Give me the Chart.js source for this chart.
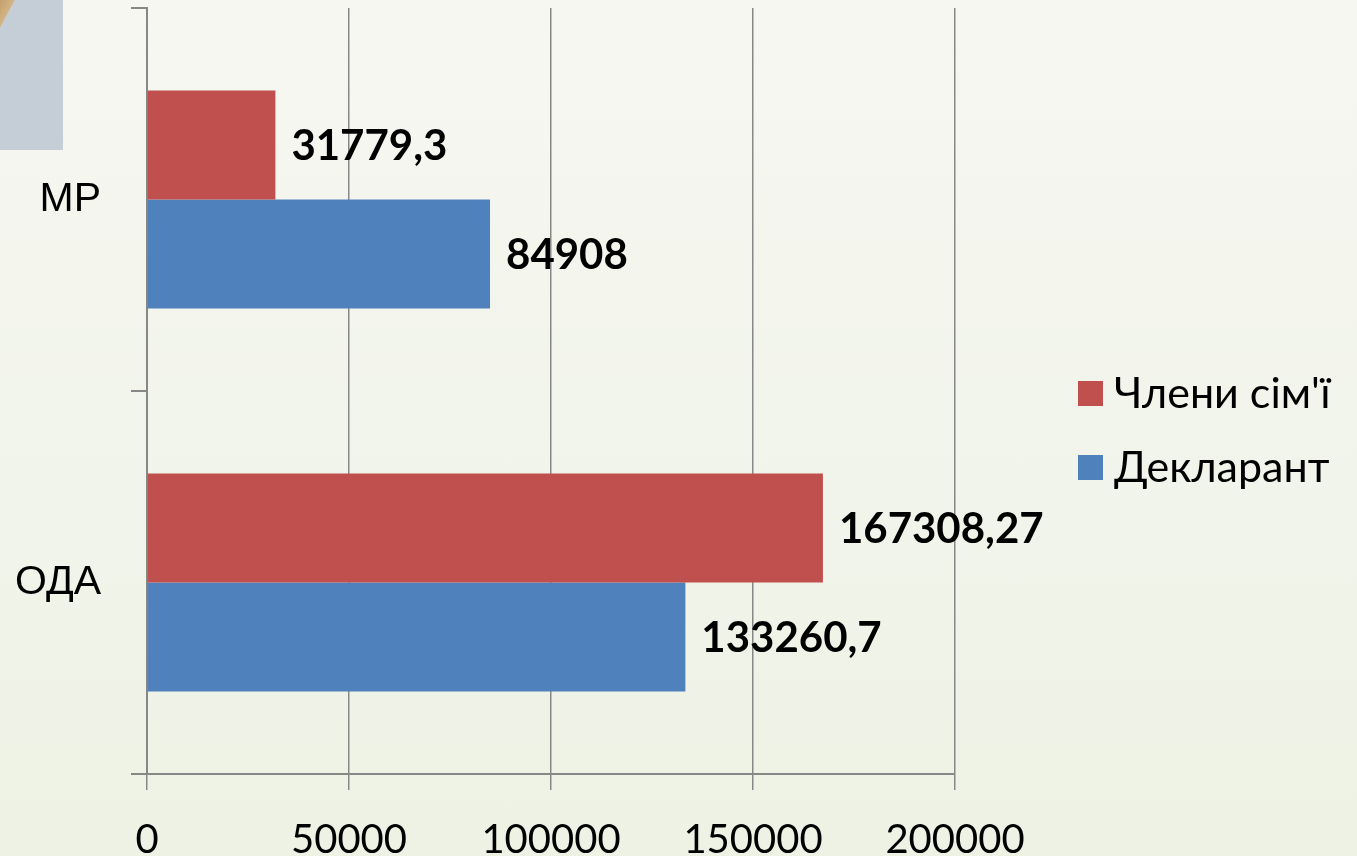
<!DOCTYPE html>
<html>
<head>
<meta charset="utf-8">
<script src="https://cdn.jsdelivr.net/npm/chart.js@4"></script>
<style>
  html, body { margin: 0; padding: 0; }
  body {
    width: 1357px; height: 856px; overflow: hidden; position: relative;
    background: linear-gradient(180deg, #f6f7f1 0%, #f1f4ea 60%, #edf2e4 100%);
  }
  #deco {
    position: absolute; left: 0; top: 0; width: 63px; height: 150px;
    background: #c5ced6; overflow: hidden;
  }
  #deco div {
    position: absolute; left: -22px; top: -20px; width: 22px; height: 90px;
    background: linear-gradient(90deg, #b8955c, #d3b486);
    transform: rotate(28deg);
  }
  #wrap { position: absolute; left: 0; top: 0; width: 1357px; height: 856px; }
</style>
</head>
<body>
<div id="deco"><div></div></div>
<div id="wrap"><canvas id="chart"></canvas></div>
<script>
  // categories and series
  const categories = ['МР', 'ОДА'];
  const chleny = [31779.3, 167308.27];
  const deklarant = [84908, 133260.7];
  const chlenyText = ['31779,3', '167308,27'];
  const deklarantText = ['84908', '133260,7'];
  const xTicks = [0, 50000, 100000, 150000, 200000];

  const RED = '#C0504D';
  const BLUE = '#4F81BD';
  const AXIS = '#878787';
  const numFont = "Lato, 'Open Sans', sans-serif";

  // value labels to the right of each bar
  const valueLabels = {
    id: 'valueLabels',
    afterDatasetsDraw(chart) {
      const ctx = chart.ctx;
      const texts = [chlenyText, deklarantText];
      ctx.save();
      ctx.font = 'bold 42px ' + numFont;
      ctx.fillStyle = '#000';
      ctx.textBaseline = 'middle';
      ctx.textAlign = 'left';
      chart.data.datasets.forEach((ds, i) => {
        chart.getDatasetMeta(i).data.forEach((bar, j) => {
          ctx.fillText(texts[i][j], bar.x + 16, bar.y + 1);
        });
      });
      ctx.restore();
    }
  };

  // legend on the right
  const sideLegend = {
    id: 'sideLegend',
    afterDraw(chart) {
      const ctx = chart.ctx;
      ctx.save();
      ctx.font = '43px ' + numFont;
      ctx.textBaseline = 'middle';
      ctx.textAlign = 'left';
      chart.data.datasets.forEach((ds, i) => {
        const y = 393 + i * 74;
        ctx.fillStyle = ds.backgroundColor;
        ctx.fillRect(1078, y - 12, 25, 25);
        ctx.fillStyle = '#000';
        ctx.fillText(ds.label, 1114, y + 1);
      });
      ctx.restore();
    }
  };

  new Chart(document.getElementById('chart'), {
    type: 'bar',
    data: {
      labels: categories,
      datasets: [
        { label: "Члени сім'ї", data: chleny, backgroundColor: RED },
        { label: 'Декларант', data: deklarant, backgroundColor: BLUE }
      ]
    },
    options: {
      indexAxis: 'y',
      responsive: true,
      maintainAspectRatio: false,
      animation: false,
      categoryPercentage: 0.569,
      barPercentage: 1,
      layout: { padding: { top: 8, left: 0, right: 402, bottom: 0 } },
      scales: {
        x: {
          min: 0,
          max: 200000,
          afterBuildTicks: axis => { axis.ticks = xTicks.map(v => ({ value: v })); },
          afterFit: axis => { axis.height = 82; },
          grid: { color: AXIS, lineWidth: 1.5, tickLength: 16 },
          border: { color: AXIS, width: 2 },
          ticks: {
            color: '#000',
            padding: 26,
            maxRotation: 0,
            callback: v => String(v),
            font: { family: numFont, size: 40 }
          }
        },
        y: {
          afterFit: axis => {
            axis.width = 147;
            axis.paddingTop = 0;
            axis.paddingBottom = 0;
          },
          grid: { offset: true, drawOnChartArea: false, color: AXIS, lineWidth: 2, tickLength: 16 },
          border: { color: AXIS, width: 2 },
          ticks: {
            color: '#000',
            padding: 30,
            font: { family: "'Liberation Sans', Arial, sans-serif", size: 41 }
          }
        }
      },
      plugins: {
        legend: { display: false },
        tooltip: { enabled: false }
      }
    },
    plugins: [valueLabels, sideLegend]
  });
</script>
</body>
</html>
